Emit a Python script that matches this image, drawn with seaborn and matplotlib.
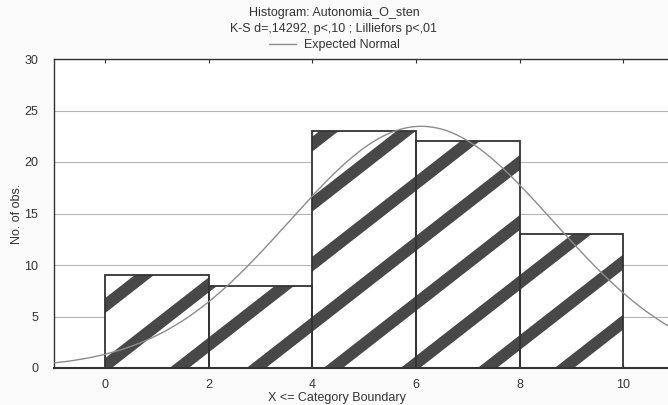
import numpy as np
import pandas as pd
import matplotlib
matplotlib.use("Agg")
import matplotlib.pyplot as plt
from matplotlib.lines import Line2D
import seaborn as sns

# ---- data ----
bin_edges = [0, 2, 4, 6, 8, 10]
bin_counts = [9, 8, 23, 22, 13]
x_ticks = [0, 2, 4, 6, 8, 10]
y_ticks = [0, 5, 10, 15, 20, 25, 30]
expected_mean = 6.1
expected_sd = 2.55

title_lines = ["Histogram: Autonomia_O_sten",
               "K-S d=,14292, p<,10 ; Lilliefors p<,01"]
legend_label = "Expected Normal"
x_label = "X <= Category Boundary"
y_label = "No. of obs."

# ---- styling ----
sns.set_style("white")
plt.rcParams['font.family'] = ['Liberation Sans', 'DejaVu Sans']
TXT = '#333333'
FS = 9

fig = plt.figure(figsize=(6.68, 4.05), dpi=100, facecolor='#fbfbfb')
W, H = 668, 405
ax = fig.add_axes([53.5 / W, (H - 368) / H, (675 - 53.5) / W, (368 - 59) / H])
ax.set_facecolor('white')

mids = [(a + b) / 2 for a, b in zip(bin_edges[:-1], bin_edges[1:])]
df = pd.DataFrame({"mid": mids, "count": bin_counts})

# bars (white fill)
sns.histplot(data=df, x="mid", weights="count", bins=bin_edges, ax=ax,
             color='white', alpha=1, edgecolor='none', linewidth=0, zorder=2)
bar_patches = list(ax.patches)

# diagonal stripes clipped to each bar
STRIPE_SLOPE = 3.92
STRIPE_OFF = 10.29
STRIPE_PERIOD = 5.83
xs = np.array([-1.0, 11.0])
for p in bar_patches:
    for k in range(-8, 14):
        ys = STRIPE_SLOPE * (xs - 10) + STRIPE_OFF - STRIPE_PERIOD * k
        ln, = ax.plot(xs, ys, color='#484848', lw=8.5, solid_capstyle='butt', zorder=3)
        ln.set_clip_path(p)

# bar outlines
sns.histplot(data=df, x="mid", weights="count", bins=bin_edges, ax=ax,
             fill=False, color='#333333', linewidth=1.3, zorder=4)

# expected normal curve
n_obs = sum(bin_counts)
bw = bin_edges[1] - bin_edges[0]
xc = np.linspace(-1, 11, 400)
yc = n_obs * bw / (expected_sd * np.sqrt(2 * np.pi)) * np.exp(-0.5 * ((xc - expected_mean) / expected_sd) ** 2)
sns.lineplot(x=xc, y=yc, ax=ax, color='#8c8c8c', lw=1.0, zorder=5, legend=False)

ax.set_xlim(-1, 11)
ax.set_ylim(0, 30)
ax.set_xticks(x_ticks)
ax.set_yticks(y_ticks)
ax.yaxis.grid(True, color='#b5b5b5', lw=0.8, zorder=0)
ax.xaxis.grid(False)
ax.set_axisbelow(True)
ax.tick_params(axis='x', direction='in', length=3, top=True, bottom=True,
               labelsize=FS, labelcolor=TXT, pad=8, color='#333333')
ax.tick_params(axis='y', length=0, labelsize=FS, labelcolor=TXT, pad=11)
for s in ['left', 'top', 'bottom']:
    ax.spines[s].set_visible(True)
    ax.spines[s].set_color('#333333')
    ax.spines[s].set_linewidth(1.0)
ax.spines['bottom'].set_linewidth(1.5)
ax.spines['right'].set_visible(False)

ax.set_xlabel(x_label, fontsize=FS, color=TXT)
ax.set_ylabel(y_label, fontsize=FS, color=TXT)
ax.xaxis.set_label_coords((337 - 53.5) / 621.5, (368 - 392) / 309)
ax.yaxis.set_label_coords((23 - 53.5) / 621.5, 0.5)

fig.text(0.5, 1 - 13 / H, title_lines[0], ha='center', va='center', fontsize=FS, color=TXT)
fig.text(0.5, 1 - 29 / H, title_lines[1], ha='center', va='center', fontsize=FS, color=TXT)
handle = Line2D([0], [0], color='#8c8c8c', lw=1.0)
fig.legend([handle], [legend_label], loc='center', bbox_to_anchor=(0.5, 1 - 45 / H),
           frameon=False, fontsize=FS, handlelength=2.2, handletextpad=0.6,
           labelcolor=TXT, borderpad=0, borderaxespad=0)

fig.savefig("out.png", dpi=100, facecolor=fig.get_facecolor())
